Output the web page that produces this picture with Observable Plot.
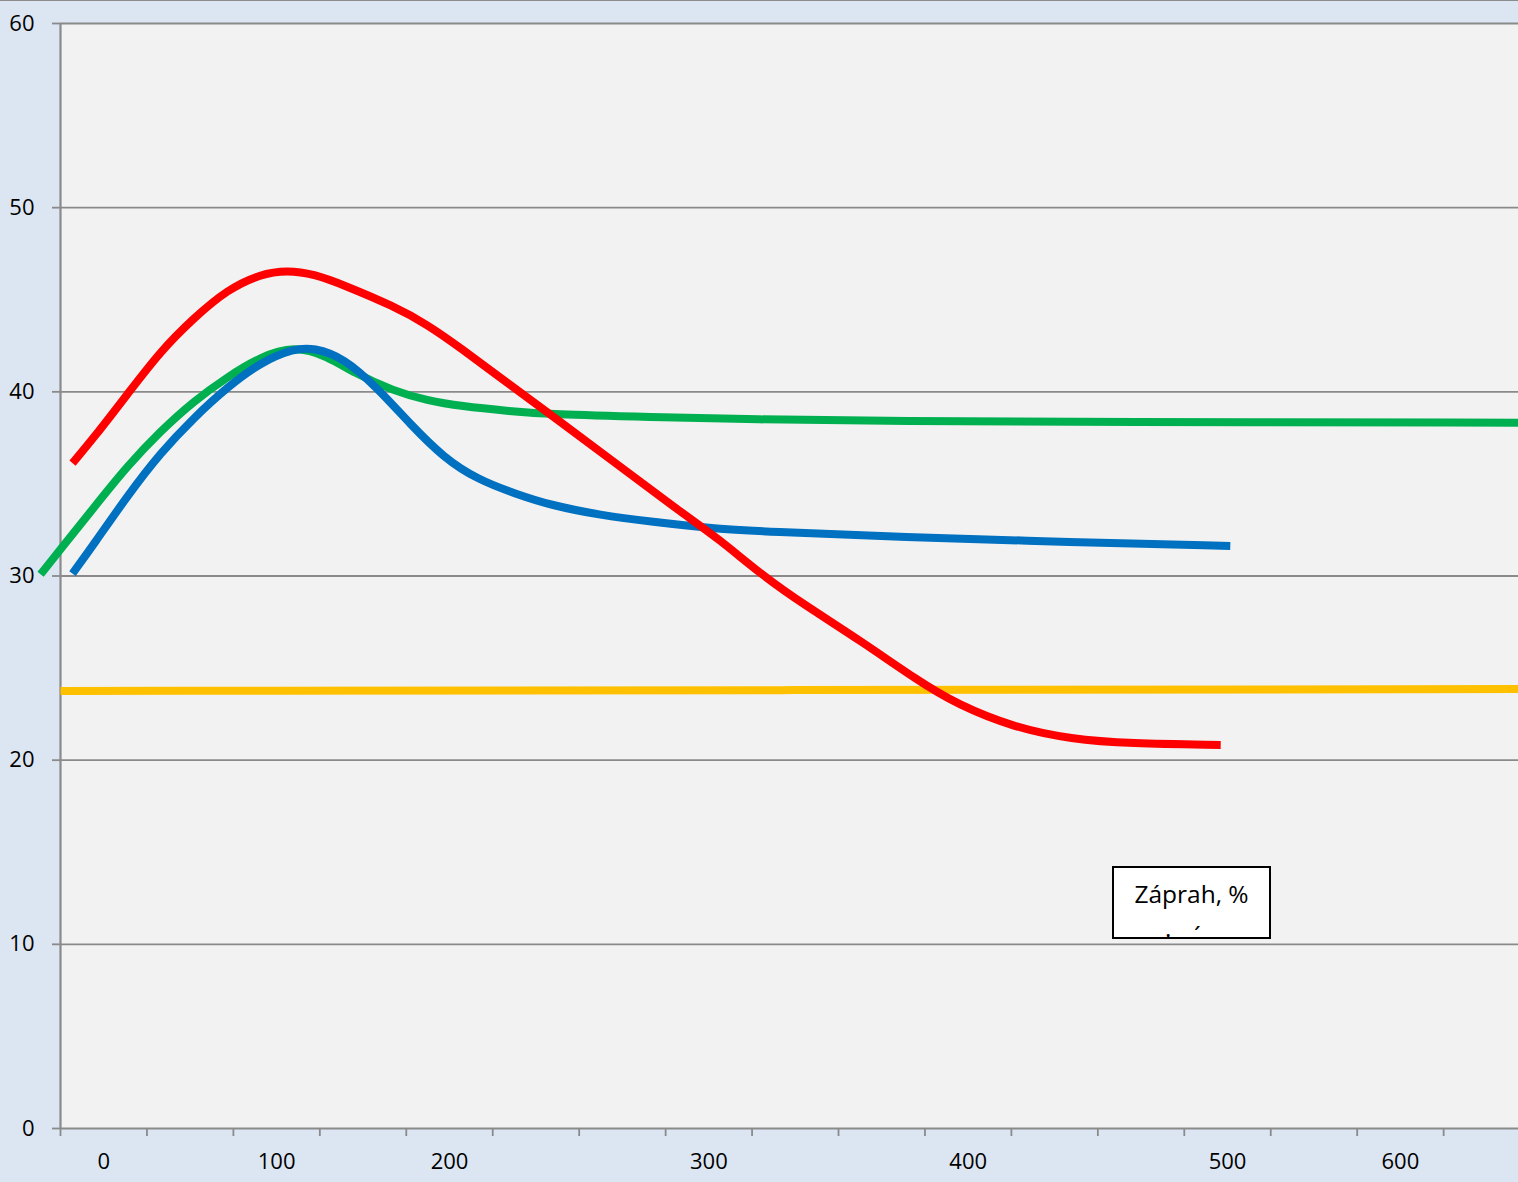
<!DOCTYPE html>
<html>
<head>
<meta charset="utf-8">
<script src="https://cdn.jsdelivr.net/npm/d3@7"></script>
<script src="https://cdn.jsdelivr.net/npm/@observablehq/plot@0.6"></script>
<style>
html, body { margin: 0; padding: 0; background: #dce6f2; }
#wrap { position: relative; width: 1518px; height: 1182px; overflow: hidden; background: #dce6f2; }
#topline { position: absolute; left: 0; top: 0; width: 1518px; height: 1px; background: #8c8c8c; }
#legend { position: absolute; left: 1112px; top: 866px; width: 155px; height: 69px;
  border: 2px solid #000; background: #fff; overflow: hidden;
  font-family: "Open Sans", "Noto Sans", sans-serif; color: #000; }
#legend .l1 { position: absolute; left: 0; width: 155px; top: 10px; text-align: center; font-size: 24.5px; line-height: 32px; }
#legend .l2 { position: absolute; top: 52px; font-size: 24px; line-height: 30px; }
svg { display: block; }
</style>
</head>
<body>
<div id="wrap"><div id="topline"></div></div>
<script>
// category positions (one category per tick interval) and values
const posRed = [-0.361,-0.115,0.272,0.657,1.042,1.428,1.814,2.123,2.430,2.777,3.356,3.742,4.127,4.667,5.168,5.940,6.710,7.097,7.653,8.095,8.760,9.424,9.867,10.531,11.195,11.859,12.921];
const valRed = [36.13,37.50,39.86,42.21,44.01,45.55,46.40,46.60,46.40,45.80,44.65,43.66,42.39,40.49,38.77,36.06,33.35,32.08,29.91,28.47,26.47,24.30,23.04,21.77,21.14,20.90,20.83];

const posBlue = [-0.361,-0.115,0.272,0.657,1.042,1.428,1.814,2.199,2.430,2.777,3.164,3.549,3.934,4.320,4.783,5.168,5.746,6.325,7.097,7.653,9.217,11.195,13.032];
const valBlue = [30.13,31.72,34.34,36.69,38.59,40.25,41.60,42.35,42.40,41.85,40.22,38.23,36.42,35.25,34.43,33.85,33.30,32.95,32.55,32.42,32.12,31.84,31.63];

const posGreen = [-0.731,-0.500,-0.115,0.272,0.657,1.042,1.428,1.814,2.199,2.585,2.893,3.356,3.742,4.127,4.706,5.168,6.325,7.482,9.217,11.531,16.366];
const valGreen = [30.09,31.45,33.71,35.97,37.87,39.50,40.80,41.90,42.50,41.95,41.03,40.04,39.53,39.22,38.95,38.77,38.63,38.50,38.41,38.37,38.32];

const posYellow = [-0.5, 8.0, 16.366];
const valYellow = [23.76, 23.80, 23.86];

const xTickPos = [0, 2, 4, 7, 10, 13, 15];
const xTickLabels = ["0", "100", "200", "300", "400", "500", "600"];
const yTicks = [0, 10, 20, 30, 40, 50, 60];
const legendTitle = "Záprah, %";

const rows = (pos, val) => pos.map((p, i) => ({x: p, y: val[i]}));
const labelMap = new Map(xTickPos.map((p, i) => [p, xTickLabels[i]]));
const boundaries = d3.range(-0.5, 16, 1);

const gray = "#8a8a8a";
const lineOpts = {x: "x", y: "y", strokeWidth: 8, curve: "basis", strokeLinecap: "butt"};

const chart = Plot.plot({
  width: 1518,
  height: 1182,
  marginLeft: 60,
  marginRight: 0,
  marginTop: 23,
  marginBottom: 54,
  style: {background: "transparent", fontFamily: "'Open Sans', 'Noto Sans', sans-serif", color: "#000", overflow: "visible"},
  x: {domain: [-0.5, 16.366], label: null},
  y: {domain: [0, 60], label: null},
  marks: [
    Plot.frame({fill: "#f2f2f2", stroke: "none"}),
    Plot.gridY(yTicks, {stroke: gray, strokeOpacity: 1, strokeWidth: 1.8}),
    Plot.ruleX([-0.5], {stroke: gray, strokeWidth: 2.2}),
    Plot.axisY(yTicks, {label: null, tickSize: 8, tickPadding: 18, fontSize: 22, stroke: gray, strokeWidth: 1.8, fill: "#000", tickFormat: d => String(d)}),
    Plot.axisX(boundaries, {label: null, tickSize: 8, tickPadding: 0, stroke: gray, strokeWidth: 1.8, tickFormat: () => ""}),
    Plot.axisX(xTickPos, {label: null, tickSize: 0, tickPadding: 25, fontSize: 22, fill: "#000", tickFormat: d => labelMap.get(d)}),
    Plot.line(rows(posYellow, valYellow), {...lineOpts, stroke: "#ffc000"}),
    Plot.line(rows(posGreen, valGreen), {...lineOpts, stroke: "#00b050"}),
    Plot.line(rows(posBlue, valBlue), {...lineOpts, stroke: "#0070c0"}),
    Plot.line(rows(posRed, valRed), {...lineOpts, stroke: "#ff0000"})
  ]
});

const wrap = document.getElementById("wrap");
wrap.insertBefore(chart, wrap.firstChild);

const legend = document.createElement("div");
legend.id = "legend";
const l1 = document.createElement("div");
l1.className = "l1";
l1.textContent = legendTitle;
legend.appendChild(l1);
const a = document.createElement("div");
a.className = "l2"; a.style.left = "51px"; a.textContent = "·";
legend.appendChild(a);
const b = document.createElement("div");
b.className = "l2"; b.style.left = "80px"; b.textContent = "´";
legend.appendChild(b);
wrap.appendChild(legend);
</script>
</body>
</html>
